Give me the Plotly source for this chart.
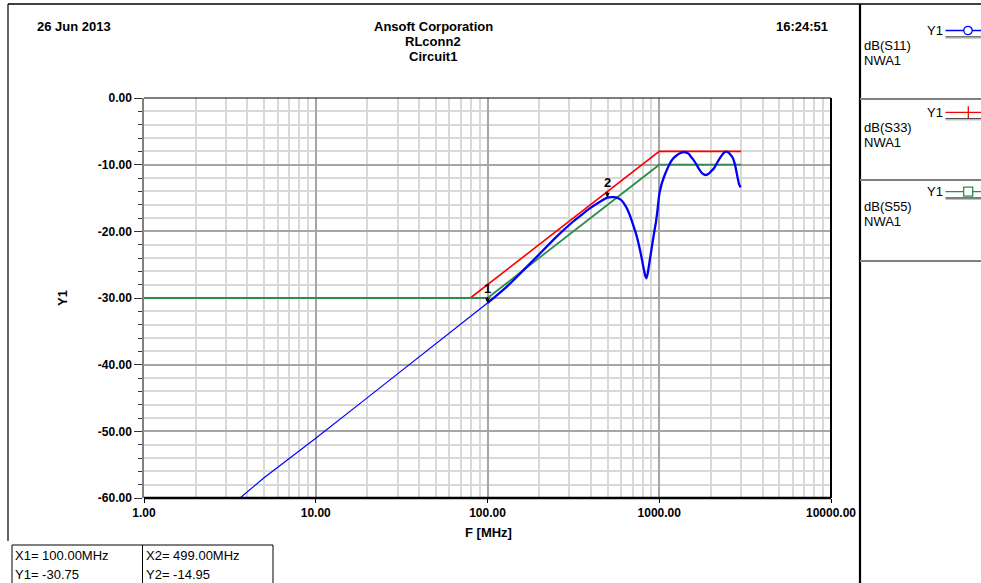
import numpy as np
import plotly.graph_objects as go

W, H = 981, 583
FONT = "Liberation Sans, Arial, sans-serif"

# ---- data -------------------------------------------------------------
# dB(S11) sweep, frequency in MHz
s11_freq = [1, 2, 3.6, 5, 10, 20, 50, 70, 100, 115, 130, 150, 175, 200, 250,
            313, 350, 392, 440, 499, 530, 560, 600, 640, 670, 700, 735, 765,
            790, 810, 828, 843, 858, 875, 895, 915, 935, 957, 980, 1000, 1030,
            1060, 1094, 1143, 1195, 1250, 1320, 1397, 1480, 1528, 1562, 1640,
            1709, 1780, 1870, 1950, 2000, 2089, 2185, 2285, 2360, 2443, 2520,
            2600, 2670, 2760, 2852, 2920, 2980]
s11_db = [-71.35, -65.24, -60.06, -56.96, -51.05, -44.94, -36.86, -33.9,
          -30.75, -29.45, -28.25, -26.7, -24.95, -23.45, -20.9, -18.6, -17.6,
          -16.6, -15.75, -14.95, -14.88, -14.9, -15.3, -16.3, -17.4, -18.8,
          -20.5, -22.3, -24.0, -25.5, -26.6, -27.05, -26.2, -24.8, -23.2,
          -21.6, -20.1, -18.6, -16.5, -14.5, -13.0, -12.0, -11.1, -10.0, -9.2,
          -8.7, -8.3, -8.1, -8.35, -8.8, -9.1, -9.9, -10.7, -11.3, -11.55,
          -11.3, -11.0, -10.5, -9.6, -8.8, -8.3, -8.05, -8.15, -8.5, -8.9,
          -10.0, -11.8, -13.0, -13.4]

# dB(S33) limit line
s33_freq = [79.4, 1000, 3000]
s33_db = [-30, -8, -8]

# dB(S55) limit line
s55_freq = [1, 100, 1000, 3000]
s55_db = [-30, -30, -10, -10]

# markers (label, frequency MHz, dB)
marker_names = ["1", "2"]
marker_freq = [100.0, 499.0]
marker_db = [-30.75, -14.95]

x_ticks = [1, 10, 100, 1000, 10000]
x_tick_text = ["1.00", "10.00", "100.00", "1000.00", "10000.00"]
y_ticks = [0, -10, -20, -30, -40, -50, -60]
y_tick_text = ["0.00", "-10.00", "-20.00", "-30.00", "-40.00", "-50.00", "-60.00"]

x_minor = [m * d for d in (1, 10, 100, 1000) for m in range(2, 10)]
y_minor = [v for v in range(-58, 0, 2) if v % 10 != 0]

# ---- layout helpers (pixel -> paper) ----------------------------------
L, R, T, B = 144, 831, 98, 498


def px(x):
    return x / W


def py(y):
    return 1 - y / H


def hline(x0, x1, y, color="black", width=1.0):
    return dict(type="line", xref="paper", yref="paper", x0=px(x0), x1=px(x1),
                y0=py(y), y1=py(y), line=dict(color=color, width=width),
                layer="above")


def vline(x, y0, y1, color="black", width=1.0):
    return dict(type="line", xref="paper", yref="paper", x0=px(x), x1=px(x),
                y0=py(y0), y1=py(y1), line=dict(color=color, width=width),
                layer="above")


def text(x, y, s, size=13, bold=False, xanchor="left", angle=0):
    return dict(xref="paper", yref="paper", x=px(x), y=py(y),
                text=f"<b>{s}</b>" if bold else s, showarrow=False,
                xanchor=xanchor, yanchor="middle", textangle=angle,
                font=dict(family=FONT, size=size, color="black"))


fig = go.Figure()

fig.add_trace(go.Scatter(x=s33_freq, y=s33_db, mode="lines", name="dB(S33)",
                         line=dict(color="#ff0000", width=1.6)))
fig.add_trace(go.Scatter(x=s55_freq, y=s55_db, mode="lines", name="dB(S55)",
                         line=dict(color="#2e8b4a", width=1.8)))

# S11: the sparse low-frequency part is drawn thin, the resonant part heavier
split = s11_freq.index(100)
fig.add_trace(go.Scatter(x=s11_freq[:split + 1], y=s11_db[:split + 1],
                         mode="lines", name="dB(S11)",
                         line=dict(color="#0000ff", width=1.2)))
fig.add_trace(go.Scatter(x=s11_freq[split:], y=s11_db[split:],
                         mode="lines", name="dB(S11)",
                         line=dict(color="#0000ff", width=2.3, shape="spline",
                                   smoothing=0.5)))

shapes = []
annotations = []

# plot frame
shapes.append(hline(L, R, T, "black", 1.2))
shapes.append(hline(L, R, B, "black", 2.5))
shapes.append(vline(R, T, B, "black", 2))

# page frame and legend panel
shapes.append(hline(8, W, 4, "black", 1.6))
shapes.append(vline(8, 4, 541, "black", 1.2))
shapes.append(vline(860, 4, H, "black", 2.2))
for ysep in (99, 180, 261):
    shapes.append(hline(860, W, ysep, "#7f7f7f", 2))

# legend entries
legend_items = [("dB(S11)", "#0000ff", "circle", 30.5),
                ("dB(S33)", "#ff0000", "plus", 112.3),
                ("dB(S55)", "#2e8b4a", "square", 191.7)]
for name, color, sym, yl in legend_items:
    annotations.append(text(925, yl, "Y1", size=13))
    shapes.append(hline(945.5, W, yl, color, 1.3))
    shapes.append(hline(945.5, W, yl + 6.3, "#4d4d4d", 1.3))
    shapes.append(hline(945.5, W, yl + 7.6, "#b0b0b0", 1))
    if sym == "circle":
        shapes.append(dict(type="circle", xref="paper", yref="paper",
                           x0=px(963.8), x1=px(972.2), y0=py(yl - 4.2),
                           y1=py(yl + 4.2), fillcolor="white",
                           line=dict(color=color, width=1.3), layer="above"))
    elif sym == "square":
        shapes.append(dict(type="rect", xref="paper", yref="paper",
                           x0=px(963.7), x1=px(972.7), y0=py(yl - 4.5),
                           y1=py(yl + 4.5), fillcolor="white",
                           line=dict(color=color, width=1.3), layer="above"))
    else:
        shapes.append(vline(968.3, yl - 6, yl + 6, color, 1.3))
    annotations.append(text(862, yl + 15, name, size=13))
    annotations.append(text(862, yl + 30, "NWA1", size=13))

# header
annotations.append(text(35, 26, "26 Jun 2013", bold=True))
annotations.append(text(433, 26, "Ansoft Corporation", bold=True, xanchor="center"))
annotations.append(text(433, 41, "RLconn2", bold=True, xanchor="center"))
annotations.append(text(433, 56, "Circuit1", bold=True, xanchor="center"))
annotations.append(text(830, 26, "16:24:51", bold=True, xanchor="right"))

# axis titles
annotations.append(text(488, 532, "F [MHz]", bold=True, xanchor="center"))
annotations.append(text(62, 298, "Y1", bold=True, xanchor="center", angle=-90))

# marker readout table
shapes.append(hline(12, 273, 545, "black", 1))
shapes.append(vline(12, 545, H, "black", 1))
shapes.append(vline(142.5, 545, H, "black", 1))
shapes.append(vline(273, 545, H, "black", 1))
for i, (f, v) in enumerate(zip(marker_freq, marker_db)):
    x0 = 13 if i == 0 else 144
    annotations.append(text(x0, 555, f"X{i + 1}= {f:.2f}MHz", size=13))
    annotations.append(text(x0, 574, f"Y{i + 1}= {v:.2f}", size=13))

# marker flags on the curve
for name, f, v in zip(marker_names, marker_freq, marker_db):
    annotations.append(dict(x=np.log10(f), y=v, xref="x", yref="y",
                            text=f"<b>{name}</b>", showarrow=True, ax=0, ay=-15,
                            arrowhead=2, arrowsize=0.8, arrowwidth=1.2,
                            arrowcolor="black", standoff=0,
                            font=dict(family=FONT, size=13, color="black")))

fig.update_layout(
    width=W, height=H,
    margin=dict(l=0, r=0, t=0, b=0, pad=0),
    paper_bgcolor="white", plot_bgcolor="white",
    showlegend=False,
    shapes=shapes, annotations=annotations,
    xaxis=dict(type="log", domain=[L / W, R / W], range=[0, 4],
               tickmode="array", tickvals=x_ticks,
               ticktext=[f"<b>{t}</b>" for t in x_tick_text],
               tickfont=dict(family=FONT, size=12, color="black"),
               ticks="outside", ticklen=4, tickcolor="black",
               showgrid=True, gridcolor="#a6a6a6", gridwidth=1.5,
               minor=dict(tickvals=x_minor, showgrid=True,
                          gridcolor="#d9d9d9", gridwidth=1.5, ticks=""),
               showline=False, zeroline=False, automargin=False,
               fixedrange=True),
    yaxis=dict(domain=[1 - B / H, 1 - T / H], range=[-60, 0],
               tickmode="array", tickvals=y_ticks,
               ticktext=[f"<b>{t}</b>" for t in y_tick_text],
               tickfont=dict(family=FONT, size=12, color="black"),
               ticks="outside", ticklen=8, tickcolor="#333333", tickwidth=1,
               showgrid=True, gridcolor="#a6a6a6", gridwidth=1.5,
               minor=dict(tickvals=y_minor, showgrid=True,
                          gridcolor="#d9d9d9", gridwidth=1.5,
                          ticks="outside", ticklen=4, tickcolor="#333333"),
               showline=True, linecolor="#808080", linewidth=1.5,
               zeroline=False, automargin=False, fixedrange=True),
)

fig.write_html("out.html")
